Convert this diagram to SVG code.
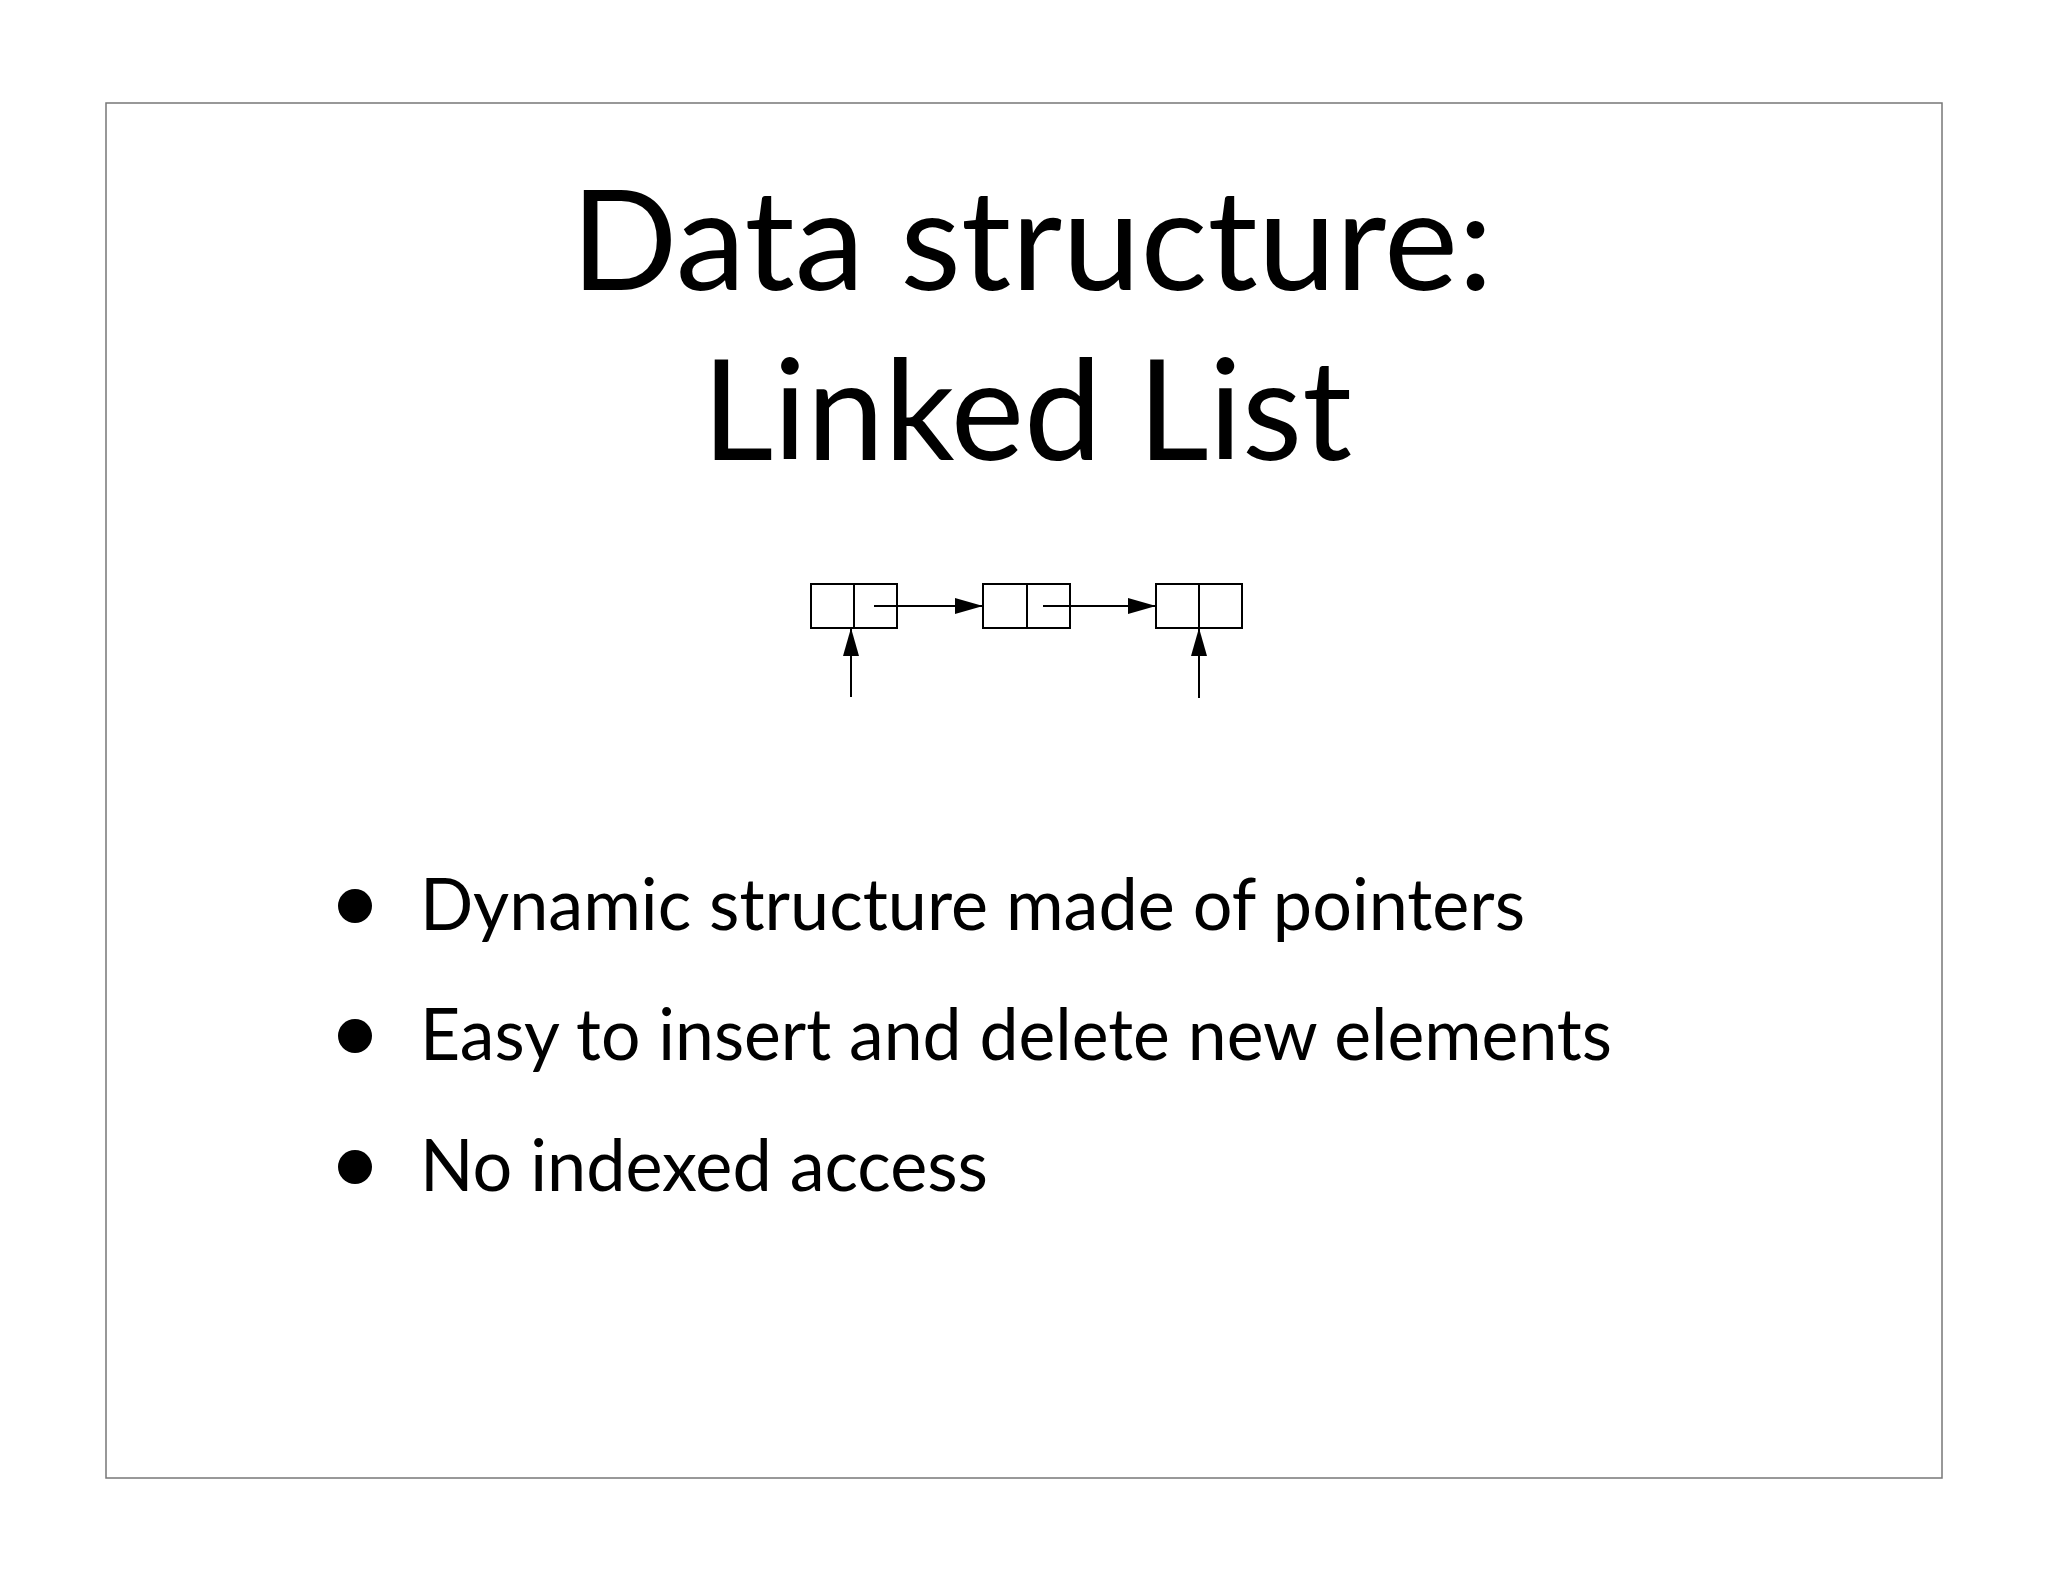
<svg xmlns="http://www.w3.org/2000/svg" width="2048" height="1582" viewBox="0 0 2048 1582">
<style>
.t{font-family:Lato,"Open Sans",sans-serif;fill:#000}
.b{fill:#fff;stroke:#000;stroke-width:2}
.c{stroke:#000;stroke-width:2;fill:none}
</style>
<defs><marker id="ah" markerWidth="28" markerHeight="16" refX="28" refY="8" orient="auto" markerUnits="userSpaceOnUse"><path d="M0,0L28,8L0,16z" fill="#000"/></marker></defs>
<rect x="0" y="0" width="2048" height="1582" fill="#fff"/>
<rect x="106" y="103" width="1836" height="1375" fill="none" stroke="#777" stroke-width="1.5"/>
<g id="title">
<text class="t" x="1032" y="290" font-size="140" text-anchor="middle" textLength="922" lengthAdjust="spacingAndGlyphs">Data structure:</text>
<text class="t" x="1027" y="460" font-size="140" text-anchor="middle" textLength="650" lengthAdjust="spacingAndGlyphs">Linked List</text>
</g>
<g id="node1"><rect class="b" x="811" y="584" width="86" height="44"/><line class="c" x1="854" y1="584" x2="854" y2="628"/></g>
<g id="node2"><rect class="b" x="983" y="584" width="87" height="44"/><line class="c" x1="1027" y1="584" x2="1027" y2="628"/></g>
<g id="node3"><rect class="b" x="1156" y="584" width="86" height="44"/><line class="c" x1="1199" y1="584" x2="1199" y2="628"/></g>
<g id="connectors">
<line class="c" x1="874" y1="606" x2="983" y2="606" marker-end="url(#ah)"/>
<line class="c" x1="1043" y1="606" x2="1156" y2="606" marker-end="url(#ah)"/>
<line class="c" x1="851" y1="697" x2="851" y2="628" marker-end="url(#ah)"/>
<line class="c" x1="1199" y1="698" x2="1199" y2="628" marker-end="url(#ah)"/>
</g>
<g id="bullets">
<circle cx="355" cy="906" r="17"/><circle cx="355" cy="1036" r="17"/><circle cx="355" cy="1167" r="17"/>
<text class="t" x="420" y="930" font-size="72" textLength="1105" lengthAdjust="spacingAndGlyphs">Dynamic structure made of pointers</text>
<text class="t" x="420" y="1060" font-size="72" textLength="1192" lengthAdjust="spacingAndGlyphs">Easy to insert and delete new elements</text>
<text class="t" x="420" y="1191" font-size="72" textLength="568" lengthAdjust="spacingAndGlyphs">No indexed access</text>
</g>
</svg>
